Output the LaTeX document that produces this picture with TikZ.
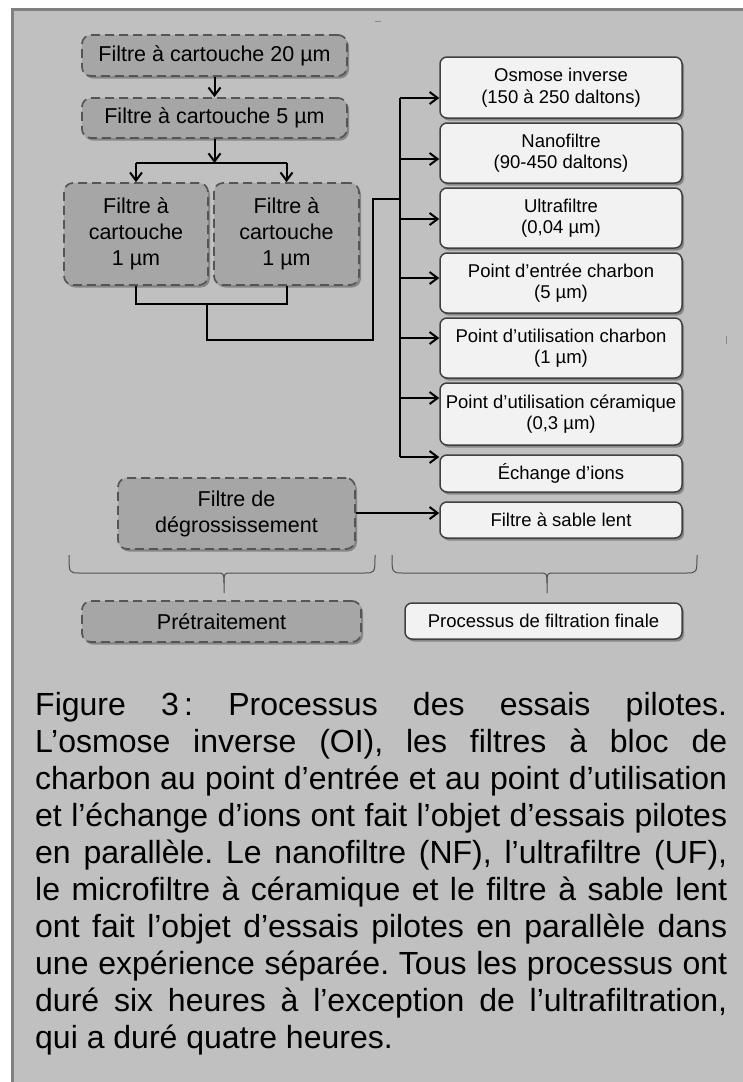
\documentclass[tikz,border=0pt]{standalone}
\usepackage{fontspec}
\setmainfont{Liberation Sans}
\usetikzlibrary{arrows.meta,shadows}
\frenchspacing
\definecolor{panel}{HTML}{C0C0C0}
\definecolor{panelborder}{HTML}{808080}
\definecolor{gfill}{HTML}{A6A6A6}
\definecolor{gborder}{HTML}{555555}
\definecolor{wfill}{HTML}{F2F2F2}
\definecolor{wborder}{HTML}{404040}
\definecolor{bracecol}{HTML}{505050}
\definecolor{tickcol}{HTML}{7A8AA0}
\tikzset{
  shad/.style={drop shadow={shadow xshift=2pt, shadow yshift=-2.5pt, opacity=0.3, fill=black}},
  gbox/.style={shad, draw=gborder, fill=gfill, line width=1.7pt, dash pattern=on 9pt off 5pt,
    rounded corners=9pt, inner sep=0pt, align=center, font=\fontsize{21.5}{26}\selectfont},
  wbox/.style={shad, draw=wborder, fill=wfill, line width=1.5pt, rounded corners=7pt,
    inner sep=0pt, align=center, font=\fontsize{18.5}{21.5}\selectfont},
  conn/.style={line width=2pt, black},
  arr/.style={conn, -{Straight Barb[length=8pt,width=12pt]}},
  brace/.style={draw=bracecol, line width=1pt},
  capline/.style={anchor=base west, inner sep=0pt, font=\fontsize{32}{37}\selectfont}
}
\begin{document}
\begin{tikzpicture}[x=1pt,y=-1pt]
\useasboundingbox (0,0) rectangle (743,1082);
\fill[white] (0,0) rectangle (743,1082);
\fill[panel] (12,9) rectangle (743,1082);
\draw[panelborder, line width=3pt] (12.5,1082) -- (12.5,9.5) -- (743,9.5);
% tiny marks
\draw[tickcol, line width=1pt] (375,21) -- (381,21);
\draw[tickcol, line width=1pt] (726,336) -- (726,344);

% pretreatment boxes
\node[gbox, minimum width=265pt, minimum height=41pt] (A) at (214.5,55.5) {Filtre à cartouche 20 µm};
\node[gbox, minimum width=265pt, minimum height=40pt] (B) at (214.5,118) {Filtre à cartouche 5 µm};
\node[gbox, minimum width=144pt, minimum height=102pt] (C1) at (136,234) {Filtre à\\cartouche\\1 µm};
\node[gbox, minimum width=145pt, minimum height=102pt] (C2) at (286.5,234) {Filtre à\\cartouche\\1 µm};
\node[gbox, minimum width=237pt, minimum height=71pt] (D) at (236.5,513.5) {Filtre de\\dégrossissement};
\node[gbox, minimum width=279pt, minimum height=41pt] (P) at (221.5,621.5) {Prétraitement};

% final boxes
\node[wbox, minimum width=242pt, minimum height=61pt] (R1) at (561,87.5) {Osmose inverse\\(150 à 250 daltons)};
\node[wbox, minimum width=242pt, minimum height=60pt] (R2) at (561,153) {Nanofiltre\\(90-450 daltons)};
\node[wbox, minimum width=242pt, minimum height=60pt] (R3) at (561,218) {Ultrafiltre\\(0,04 µm)};
\node[wbox, minimum width=242pt, minimum height=60pt] (R4) at (561,283) {Point d’entrée charbon\\(5 µm)};
\node[wbox, minimum width=242pt, minimum height=60pt] (R5) at (561,348) {Point d’utilisation charbon\\(1 µm)};
\node[wbox, minimum width=242pt, minimum height=62pt] (R6) at (561,414) {Point d’utilisation céramique\\(0,3 µm)};
\node[wbox, minimum width=242pt, minimum height=37pt] (R7) at (561,473.5) {Échange d’ions};
\node[wbox, minimum width=242pt, minimum height=36pt] (R8) at (561,520) {Filtre à sable lent};
\node[wbox, minimum width=277pt, minimum height=36pt] (F) at (543.5,621) {Processus de filtration finale};

% connectors
\coordinate (split) at (213,163);
\coordinate (j1) at (207,304);
\coordinate (j2) at (373,340);
\coordinate (j3) at (373,199);
\coordinate (j4) at (400,199);
\coordinate (bus1) at (400,98);
\coordinate (bus2) at (400,159);
\coordinate (bus3) at (400,219);
\coordinate (bus4) at (400,278);
\coordinate (bus5) at (400,338);
\coordinate (bus6) at (400,398);
\coordinate (bus7) at (400,457);

\draw[arr] (A.south) -- (B.north);
\draw[arr] (B.south) -- (B.south |- split);
\draw[conn] (C1.north |- split) -- (C2.north |- split);
\draw[arr] (C1.north |- split) -- (C1.north);
\draw[arr] (C2.north |- split) -- (C2.north);
\draw[conn] (C1.south) |- (j1) -| (C2.south);
\draw[conn] (j1) |- (j2) -- (j3) -- (j4);
\draw[conn] (bus1) -- (bus7);
\draw[arr] (bus1) -- (R1.west |- bus1);
\draw[arr] (bus2) -- (R2.west |- bus2);
\draw[arr] (bus3) -- (R3.west |- bus3);
\draw[arr] (bus4) -- (R4.west |- bus4);
\draw[arr] (bus5) -- (R5.west |- bus5);
\draw[arr] (bus6) -- (R6.west |- bus6);
\draw[arr] (bus7) -- (R7.west |- bus7);
\draw[arr] (D.east |- 0,513) -- (R8.west |- 0,513);

% braces
\draw[brace] (69,555) .. controls (69,573) .. (80,573) -- (216,573) .. controls (224,573) .. (224,583) -- (224,593);
\draw[brace] (375,555) .. controls (375,573) .. (364,573) -- (232,573) .. controls (224,573) .. (224,583);
\draw[brace] (392,555) .. controls (392,573) .. (403,573) -- (539,573) .. controls (547,573) .. (547,583) -- (547,593);
\draw[brace] (697,555) .. controls (697,573) .. (686,573) -- (555,573) .. controls (547,573) .. (547,583);

% caption
\node[capline] (l1) at (35,715) {\makebox[692pt][s]{Figure 3\,: Processus des essais pilotes.}};
\node[capline] (l2) at (35,752) {\makebox[692pt][s]{L’osmose inverse (OI), les filtres à bloc de}};
\node[capline] (l3) at (35,789) {\makebox[692pt][s]{charbon au point d’entrée et au point d’utilisation}};
\node[capline] (l4) at (35,826) {\makebox[692pt][s]{et l’échange d’ions ont fait l’objet d’essais pilotes}};
\node[capline] (l5) at (35,863) {\makebox[692pt][s]{en parallèle. Le nanofiltre (NF), l’ultrafiltre (UF),}};
\node[capline] (l6) at (35,900) {\makebox[692pt][s]{le microfiltre à céramique et le filtre à sable lent}};
\node[capline] (l7) at (35,937) {\makebox[692pt][s]{ont fait l’objet d’essais pilotes en parallèle dans}};
\node[capline] (l8) at (35,974) {\makebox[692pt][s]{une expérience séparée. Tous les processus ont}};
\node[capline] (l9) at (35,1011) {\makebox[692pt][s]{duré six heures à l’exception de l’ultrafiltration,}};
\node[capline] (l10) at (35,1048) {qui a duré quatre heures.};
\end{tikzpicture}
\end{document}
